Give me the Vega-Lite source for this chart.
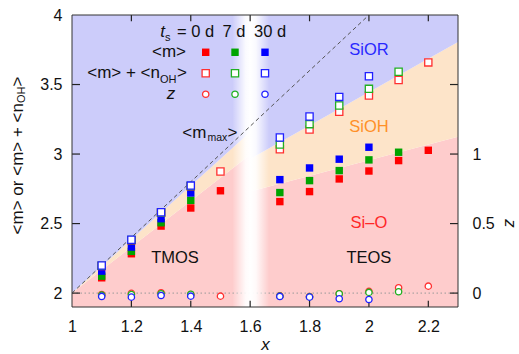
{
  "$schema": "https://vega.github.io/schema/vega-lite/v6.json",
  "width": 386,
  "height": 292,
  "autosize": {"type": "none"},
  "padding": {"left": 72, "top": 15, "right": 61, "bottom": 47},
  "config": {
    "font": "Liberation Sans",
    "view": {"stroke": null},
    "axis": {"labelFont": "Liberation Sans", "labelFontSize": 16, "labelColor": "#111", "tickColor": "#333", "domainColor": "#333", "grid": false, "titleFont": "Liberation Sans", "titleColor": "#111"}
  },
  "datasets": {
    "regions": [
      {"seg": "pinkL", "phase": "Si-O", "x": 1.0, "lo": 1.9, "hi": 2.0},
      {"seg": "pinkL", "phase": "Si-O", "x": 1.6, "lo": 1.9, "hi": 2.995},
      {"seg": "orangeL", "phase": "SiOH", "x": 1.0, "lo": 2.0, "hi": 2.0},
      {"seg": "orangeL", "phase": "SiOH", "x": 1.6, "lo": 2.995, "hi": 3.158},
      {"seg": "blueL", "phase": "SiOR", "x": 1.0, "lo": 2.0, "hi": 4.0},
      {"seg": "blueL", "phase": "SiOR", "x": 1.6, "lo": 3.158, "hi": 4.0},
      {"seg": "pinkR", "phase": "Si-O", "x": 1.6, "lo": 1.9, "hi": 2.73},
      {"seg": "pinkR", "phase": "Si-O", "x": 2.3, "lo": 1.9, "hi": 3.125},
      {"seg": "orangeR", "phase": "SiOH", "x": 1.6, "lo": 2.73, "hi": 2.965},
      {"seg": "orangeR", "phase": "SiOH", "x": 2.3, "lo": 3.125, "hi": 3.805},
      {"seg": "blueR", "phase": "SiOR", "x": 1.6, "lo": 2.965, "hi": 4.0},
      {"seg": "blueR", "phase": "SiOR", "x": 2.3, "lo": 3.805, "hi": 4.0}
    ],
    "xt": [{"v": 1.2}, {"v": 1.4}, {"v": 1.6}, {"v": 1.8}, {"v": 2.0}, {"v": 2.2}],
    "yt": [{"v": 2.0}, {"v": 2.5}, {"v": 3.0}, {"v": 3.5}],
    "m": [
      {"x": 1.1, "ts": "0 d", "v": 2.11}, {"x": 1.1, "ts": "7 d", "v": 2.122}, {"x": 1.1, "ts": "30 d", "v": 2.158},
      {"x": 1.2, "ts": "0 d", "v": 2.283}, {"x": 1.2, "ts": "7 d", "v": 2.3}, {"x": 1.2, "ts": "30 d", "v": 2.331},
      {"x": 1.3, "ts": "0 d", "v": 2.482}, {"x": 1.3, "ts": "7 d", "v": 2.506}, {"x": 1.3, "ts": "30 d", "v": 2.535},
      {"x": 1.4, "ts": "0 d", "v": 2.612}, {"x": 1.4, "ts": "7 d", "v": 2.667}, {"x": 1.4, "ts": "30 d", "v": 2.72},
      {"x": 1.5, "ts": "0 d", "v": 2.736},
      {"x": 1.7, "ts": "0 d", "v": 2.658}, {"x": 1.7, "ts": "7 d", "v": 2.723}, {"x": 1.7, "ts": "30 d", "v": 2.816},
      {"x": 1.8, "ts": "0 d", "v": 2.73}, {"x": 1.8, "ts": "7 d", "v": 2.809}, {"x": 1.8, "ts": "30 d", "v": 2.9},
      {"x": 1.9, "ts": "0 d", "v": 2.821}, {"x": 1.9, "ts": "7 d", "v": 2.881}, {"x": 1.9, "ts": "30 d", "v": 2.963},
      {"x": 2.0, "ts": "0 d", "v": 2.878}, {"x": 2.0, "ts": "7 d", "v": 2.958}, {"x": 2.0, "ts": "30 d", "v": 3.049},
      {"x": 2.1, "ts": "0 d", "v": 2.953}, {"x": 2.1, "ts": "7 d", "v": 3.013},
      {"x": 2.2, "ts": "0 d", "v": 3.027}
    ],
    "mn": [
      {"x": 1.1, "ts": "0 d", "v": 2.195}, {"x": 1.1, "ts": "7 d", "v": 2.197}, {"x": 1.1, "ts": "30 d", "v": 2.199},
      {"x": 1.2, "ts": "0 d", "v": 2.38}, {"x": 1.2, "ts": "7 d", "v": 2.382}, {"x": 1.2, "ts": "30 d", "v": 2.384},
      {"x": 1.3, "ts": "0 d", "v": 2.577}, {"x": 1.3, "ts": "7 d", "v": 2.579}, {"x": 1.3, "ts": "30 d", "v": 2.581},
      {"x": 1.4, "ts": "0 d", "v": 2.768}, {"x": 1.4, "ts": "7 d", "v": 2.77}, {"x": 1.4, "ts": "30 d", "v": 2.773},
      {"x": 1.5, "ts": "0 d", "v": 2.875},
      {"x": 1.7, "ts": "0 d", "v": 3.035}, {"x": 1.7, "ts": "7 d", "v": 3.068}, {"x": 1.7, "ts": "30 d", "v": 3.119},
      {"x": 1.8, "ts": "0 d", "v": 3.177}, {"x": 1.8, "ts": "7 d", "v": 3.215}, {"x": 1.8, "ts": "30 d", "v": 3.27},
      {"x": 1.9, "ts": "0 d", "v": 3.304}, {"x": 1.9, "ts": "7 d", "v": 3.349}, {"x": 1.9, "ts": "30 d", "v": 3.411},
      {"x": 2.0, "ts": "0 d", "v": 3.421}, {"x": 2.0, "ts": "7 d", "v": 3.469}, {"x": 2.0, "ts": "30 d", "v": 3.56},
      {"x": 2.1, "ts": "0 d", "v": 3.532}, {"x": 2.1, "ts": "7 d", "v": 3.592},
      {"x": 2.2, "ts": "0 d", "v": 3.659}
    ],
    "z": [
      {"x": 1.1, "ts": "0 d", "z": -0.01}, {"x": 1.1, "ts": "7 d", "z": -0.015}, {"x": 1.1, "ts": "30 d", "z": -0.024},
      {"x": 1.2, "ts": "0 d", "z": -0.002}, {"x": 1.2, "ts": "7 d", "z": -0.01}, {"x": 1.2, "ts": "30 d", "z": -0.029},
      {"x": 1.3, "ts": "0 d", "z": 0.002}, {"x": 1.3, "ts": "7 d", "z": -0.005}, {"x": 1.3, "ts": "30 d", "z": -0.017},
      {"x": 1.4, "ts": "0 d", "z": -0.01}, {"x": 1.4, "ts": "7 d", "z": -0.008}, {"x": 1.4, "ts": "30 d", "z": -0.022},
      {"x": 1.5, "ts": "0 d", "z": -0.022},
      {"x": 1.7, "ts": "0 d", "z": -0.02}, {"x": 1.7, "ts": "7 d", "z": -0.022}, {"x": 1.7, "ts": "30 d", "z": -0.024},
      {"x": 1.8, "ts": "0 d", "z": -0.025}, {"x": 1.8, "ts": "7 d", "z": -0.027}, {"x": 1.8, "ts": "30 d", "z": -0.029},
      {"x": 1.9, "ts": "0 d", "z": -0.005}, {"x": 1.9, "ts": "7 d", "z": -0.005}, {"x": 1.9, "ts": "30 d", "z": -0.041},
      {"x": 2.0, "ts": "0 d", "z": 0.012}, {"x": 2.0, "ts": "7 d", "z": 0.005}, {"x": 2.0, "ts": "30 d", "z": -0.046},
      {"x": 2.1, "ts": "0 d", "z": 0.038}, {"x": 2.1, "ts": "7 d", "z": 0.01},
      {"x": 2.2, "ts": "0 d", "z": 0.05}
    ],
    "leg": [
      {"ts": "0 d", "lx": 1.4503},
      {"ts": "7 d", "lx": 1.549},
      {"ts": "30 d", "lx": 1.65}
    ],
    "one": [{}]
  },
  "layer": [
    {
      "layer": [
        {
          "data": {"name": "regions"},
          "mark": {"type": "area", "opacity": 1},
          "encoding": {
            "x": {"field": "x", "type": "quantitative", "scale": {"domain": [1, 2.3], "nice": false, "zero": false},
              "axis": {"orient": "bottom", "values": [1, 1.2, 1.4, 1.6, 1.8, 2, 2.2], "format": "~g", "ticks": false, "labelPadding": 11.5, "labelFlush": false, "labelOverlap": false, "domain": false,
                "title": "x", "titleFontStyle": "italic", "titleFontWeight": "normal", "titleFontSize": 17, "titleY": 42, "titleBaseline": "alphabetic"}},
            "y": {"field": "hi", "type": "quantitative", "scale": {"domain": [1.9, 4], "nice": false, "zero": false},
              "axis": {"orient": "left", "values": [2, 2.5, 3, 3.5, 4], "format": "~g", "ticks": false, "labelPadding": 10, "labelFlush": false, "labelOverlap": false, "domain": false, "title": null}},
            "y2": {"field": "lo"},
            "fill": {"field": "phase", "type": "nominal", "scale": {"domain": ["SiOR", "SiOH", "Si-O"], "range": ["#ccccfa", "#fde4c9", "#fecccc"]}, "legend": null},
            "detail": {"field": "seg", "type": "nominal"}
          }
        },
        {
          "data": {"name": "one"},
          "mark": {"type": "rule", "color": "#999999", "strokeWidth": 1, "strokeDash": [1.5, 2.5]},
          "encoding": {"y": {"datum": 2, "type": "quantitative"}}
        },
        {
          "data": {"name": "one"},
          "mark": {"type": "rect", "fill": {"gradient": "linear", "x1": 0, "y1": 0, "x2": 1, "y2": 0,
            "stops": [
              {"offset": 0, "color": "rgba(255,255,255,0)"},
              {"offset": 0.36, "color": "rgba(255,255,255,0.9)"},
              {"offset": 0.5, "color": "rgba(255,255,255,1)"},
              {"offset": 0.64, "color": "rgba(255,255,255,0.9)"},
              {"offset": 1, "color": "rgba(255,255,255,0)"}
            ]}},
          "encoding": {
            "x": {"datum": 1.54, "type": "quantitative"},
            "x2": {"datum": 1.664},
            "y": {"datum": 1.9, "type": "quantitative"},
            "y2": {"datum": 4}
          }
        },
        {
          "data": {"name": "xt"},
          "mark": {"type": "rule", "color": "#222222", "strokeWidth": 1.2},
          "encoding": {
            "x": {"field": "v", "type": "quantitative"},
            "y": {"datum": 1.9, "type": "quantitative"},
            "y2": {"datum": 1.945}
          }
        },
        {
          "data": {"name": "xt"},
          "mark": {"type": "rule", "color": "#222222", "strokeWidth": 1.2},
          "encoding": {
            "x": {"field": "v", "type": "quantitative"},
            "y": {"datum": 4, "type": "quantitative"},
            "y2": {"datum": 3.955}
          }
        },
        {
          "data": {"name": "yt"},
          "mark": {"type": "rule", "color": "#222222", "strokeWidth": 1.2},
          "encoding": {
            "y": {"field": "v", "type": "quantitative"},
            "x": {"datum": 1, "type": "quantitative"},
            "x2": {"datum": 1.027}
          }
        },
        {
          "data": {"name": "yt"},
          "mark": {"type": "rule", "color": "#222222", "strokeWidth": 1.2},
          "encoding": {
            "y": {"field": "v", "type": "quantitative"},
            "x": {"datum": 2.3, "type": "quantitative"},
            "x2": {"datum": 2.273}
          }
        },
        {
          "data": {"name": "one"},
          "mark": {"type": "rule", "color": "#555555", "strokeWidth": 1, "strokeDash": [4, 3]},
          "encoding": {
            "x": {"datum": 1, "type": "quantitative"},
            "x2": {"datum": 2},
            "y": {"datum": 2, "type": "quantitative"},
            "y2": {"datum": 4}
          }
        },
        {
          "data": {"name": "m"},
          "mark": {"type": "point", "shape": "square", "filled": true, "size": 55, "opacity": 1, "strokeWidth": 0},
          "encoding": {
            "x": {"field": "x", "type": "quantitative"},
            "y": {"field": "v", "type": "quantitative"},
            "color": {"field": "ts", "type": "nominal", "scale": {"domain": ["0 d", "7 d", "30 d"], "range": ["#ff0000", "#00a400", "#0000ff"]}, "legend": null}
          }
        },
        {
          "data": {"name": "mn"},
          "mark": {"type": "point", "shape": "square", "filled": true, "fill": "white", "size": 52, "opacity": 1, "strokeWidth": 1.3},
          "encoding": {
            "x": {"field": "x", "type": "quantitative"},
            "y": {"field": "v", "type": "quantitative"},
            "stroke": {"field": "ts", "type": "nominal", "scale": {"domain": ["0 d", "7 d", "30 d"], "range": ["#ff3030", "#20b020", "#2020ff"]}, "legend": null}
          }
        },
        {
          "data": {"name": "leg"},
          "mark": {"type": "point", "shape": "square", "filled": true, "size": 55, "opacity": 1, "strokeWidth": 0},
          "encoding": {
            "x": {"field": "lx", "type": "quantitative"},
            "y": {"datum": 3.732, "type": "quantitative"},
            "color": {"field": "ts", "type": "nominal", "legend": null}
          }
        },
        {
          "data": {"name": "leg"},
          "mark": {"type": "point", "shape": "square", "filled": true, "fill": "white", "size": 52, "opacity": 1, "strokeWidth": 1.3},
          "encoding": {
            "x": {"field": "lx", "type": "quantitative"},
            "y": {"datum": 3.581, "type": "quantitative"},
            "stroke": {"field": "ts", "type": "nominal", "legend": null}
          }
        },
        {
          "data": {"name": "leg"},
          "mark": {"type": "point", "shape": "circle", "filled": true, "fill": "white", "size": 40, "opacity": 1, "strokeWidth": 1.3},
          "encoding": {
            "x": {"field": "lx", "type": "quantitative"},
            "y": {"datum": 3.43, "type": "quantitative"},
            "stroke": {"field": "ts", "type": "nominal", "legend": null}
          }
        },
        {
          "data": {"name": "one"},
          "mark": {"type": "text", "fontSize": 16.5, "align": "center", "baseline": "middle", "color": "#111"},
          "encoding": {"x": {"datum": 1.347, "type": "quantitative"}, "y": {"datum": 2.25, "type": "quantitative"}, "text": {"value": "TMOS"}}
        },
        {
          "data": {"name": "one"},
          "mark": {"type": "text", "fontSize": 16.5, "align": "center", "baseline": "middle", "color": "#111"},
          "encoding": {"x": {"datum": 2.0, "type": "quantitative"}, "y": {"datum": 2.25, "type": "quantitative"}, "text": {"value": "TEOS"}}
        },
        {
          "data": {"name": "one"},
          "mark": {"type": "text", "fontSize": 16.5, "align": "center", "baseline": "middle", "color": "#2828ff"},
          "encoding": {"x": {"datum": 2.0, "type": "quantitative"}, "y": {"datum": 3.748, "type": "quantitative"}, "text": {"value": "SiOR"}}
        },
        {
          "data": {"name": "one"},
          "mark": {"type": "text", "fontSize": 16.5, "align": "center", "baseline": "middle", "color": "#ff9028"},
          "encoding": {"x": {"datum": 2.0, "type": "quantitative"}, "y": {"datum": 3.197, "type": "quantitative"}, "text": {"value": "SiOH"}}
        },
        {
          "data": {"name": "one"},
          "mark": {"type": "text", "fontSize": 16.5, "align": "center", "baseline": "middle", "color": "#ff2828"},
          "encoding": {"x": {"datum": 2.0, "type": "quantitative"}, "y": {"datum": 2.502, "type": "quantitative"}, "text": {"value": "Si–O"}}
        },
        {
          "data": {"name": "one"},
          "mark": {"type": "text", "fontSize": 17, "fontStyle": "italic", "align": "right", "baseline": "middle", "color": "#111"},
          "encoding": {"x": {"datum": 1.3132, "type": "quantitative"}, "y": {"datum": 3.88, "type": "quantitative"}, "text": {"value": "t"}}
        },
        {
          "data": {"name": "one"},
          "mark": {"type": "text", "fontSize": 11, "align": "left", "baseline": "middle", "color": "#111"},
          "encoding": {"x": {"datum": 1.3132, "type": "quantitative"}, "y": {"datum": 3.831, "type": "quantitative"}, "text": {"value": "s"}}
        },
        {
          "data": {"name": "one"},
          "mark": {"type": "text", "fontSize": 16.5, "align": "left", "baseline": "middle", "color": "#111"},
          "encoding": {"x": {"datum": 1.3536, "type": "quantitative"}, "y": {"datum": 3.88, "type": "quantitative"}, "text": {"value": "= 0 d"}}
        },
        {
          "data": {"name": "one"},
          "mark": {"type": "text", "fontSize": 16.5, "align": "center", "baseline": "middle", "color": "#111"},
          "encoding": {"x": {"datum": 1.5456, "type": "quantitative"}, "y": {"datum": 3.88, "type": "quantitative"}, "text": {"value": "7 d"}}
        },
        {
          "data": {"name": "one"},
          "mark": {"type": "text", "fontSize": 16.5, "align": "center", "baseline": "middle", "color": "#111"},
          "encoding": {"x": {"datum": 1.6669, "type": "quantitative"}, "y": {"datum": 3.88, "type": "quantitative"}, "text": {"value": "30 d"}}
        },
        {
          "data": {"name": "one"},
          "mark": {"type": "text", "fontSize": 17, "align": "right", "baseline": "middle", "color": "#111"},
          "encoding": {"x": {"datum": 1.384, "type": "quantitative"}, "y": {"datum": 3.732, "type": "quantitative"}, "text": {"value": "<m>"}}
        },
        {
          "data": {"name": "one"},
          "mark": {"type": "text", "fontSize": 17, "align": "right", "baseline": "middle", "color": "#111"},
          "encoding": {"x": {"datum": 1.2964, "type": "quantitative"}, "y": {"datum": 3.581, "type": "quantitative"}, "text": {"value": "<m> + <n"}}
        },
        {
          "data": {"name": "one"},
          "mark": {"type": "text", "fontSize": 11, "align": "left", "baseline": "middle", "color": "#111"},
          "encoding": {"x": {"datum": 1.2964, "type": "quantitative"}, "y": {"datum": 3.536, "type": "quantitative"}, "text": {"value": "OH"}}
        },
        {
          "data": {"name": "one"},
          "mark": {"type": "text", "fontSize": 17, "align": "left", "baseline": "middle", "color": "#111"},
          "encoding": {"x": {"datum": 1.3536, "type": "quantitative"}, "y": {"datum": 3.581, "type": "quantitative"}, "text": {"value": ">"}}
        },
        {
          "data": {"name": "one"},
          "mark": {"type": "text", "fontSize": 17, "fontStyle": "italic", "align": "center", "baseline": "middle", "color": "#111"},
          "encoding": {"x": {"datum": 1.3334, "type": "quantitative"}, "y": {"datum": 3.43, "type": "quantitative"}, "text": {"value": "z"}}
        },
        {
          "data": {"name": "one"},
          "mark": {"type": "text", "fontSize": 17, "align": "right", "baseline": "middle", "color": "#111"},
          "encoding": {"x": {"datum": 1.4527, "type": "quantitative"}, "y": {"datum": 3.151, "type": "quantitative"}, "text": {"value": "<m"}}
        },
        {
          "data": {"name": "one"},
          "mark": {"type": "text", "fontSize": 10.5, "align": "left", "baseline": "middle", "color": "#111"},
          "encoding": {"x": {"datum": 1.4561, "type": "quantitative"}, "y": {"datum": 3.115, "type": "quantitative"}, "text": {"value": "max"}}
        },
        {
          "data": {"name": "one"},
          "mark": {"type": "text", "fontSize": 17, "align": "left", "baseline": "middle", "color": "#111"},
          "encoding": {"x": {"datum": 1.5237, "type": "quantitative"}, "y": {"datum": 3.151, "type": "quantitative"}, "text": {"value": ">"}}
        },
        {
          "data": {"name": "one"},
          "mark": {"type": "text", "fontSize": 17, "angle": 270, "align": "right", "baseline": "middle", "color": "#111"},
          "encoding": {"x": {"datum": 0.8181, "type": "quantitative"}, "y": {"datum": 3.367, "type": "quantitative"}, "text": {"value": "<m> or <m> + <n"}}
        },
        {
          "data": {"name": "one"},
          "mark": {"type": "text", "fontSize": 11, "angle": 270, "align": "left", "baseline": "middle", "color": "#111"},
          "encoding": {"x": {"datum": 0.8316, "type": "quantitative"}, "y": {"datum": 3.367, "type": "quantitative"}, "text": {"value": "OH"}}
        },
        {
          "data": {"name": "one"},
          "mark": {"type": "text", "fontSize": 17, "angle": 270, "align": "left", "baseline": "middle", "color": "#111"},
          "encoding": {"x": {"datum": 0.8181, "type": "quantitative"}, "y": {"datum": 3.485, "type": "quantitative"}, "text": {"value": ">"}}
        },
        {
          "data": {"name": "one"},
          "mark": {"type": "rect", "fill": null, "fillOpacity": 0, "stroke": "#333333", "strokeWidth": 1},
          "encoding": {
            "x": {"datum": 1, "type": "quantitative"},
            "x2": {"datum": 2.3},
            "y": {"datum": 1.9, "type": "quantitative"},
            "y2": {"datum": 4}
          }
        }
      ]
    },
    {
      "data": {"name": "z"},
      "mark": {"type": "point", "shape": "circle", "filled": true, "fill": "white", "size": 40, "opacity": 1, "strokeWidth": 1.3},
      "encoding": {
        "x": {"field": "x", "type": "quantitative", "scale": {"domain": [1, 2.3], "nice": false, "zero": false}, "axis": null},
        "y": {"field": "z", "type": "quantitative", "scale": {"domain": [-0.1, 2.0], "nice": false, "zero": false},
          "axis": {"orient": "right", "values": [0, 0.5, 1], "format": "~g", "ticks": false, "labelPadding": 14, "labelFlush": false, "labelOverlap": false, "domain": false,
            "title": "z", "titleFontStyle": "italic", "titleFontWeight": "normal", "titleFontSize": 17, "titleAngle": 90, "titleX": 51, "titleY": 208, "titleAlign": "center", "titleBaseline": "middle"}},
        "stroke": {"field": "ts", "type": "nominal", "legend": null}
      }
    }
  ],
  "resolve": {"scale": {"y": "independent"}, "axis": {"x": "independent", "y": "independent"}}
}
